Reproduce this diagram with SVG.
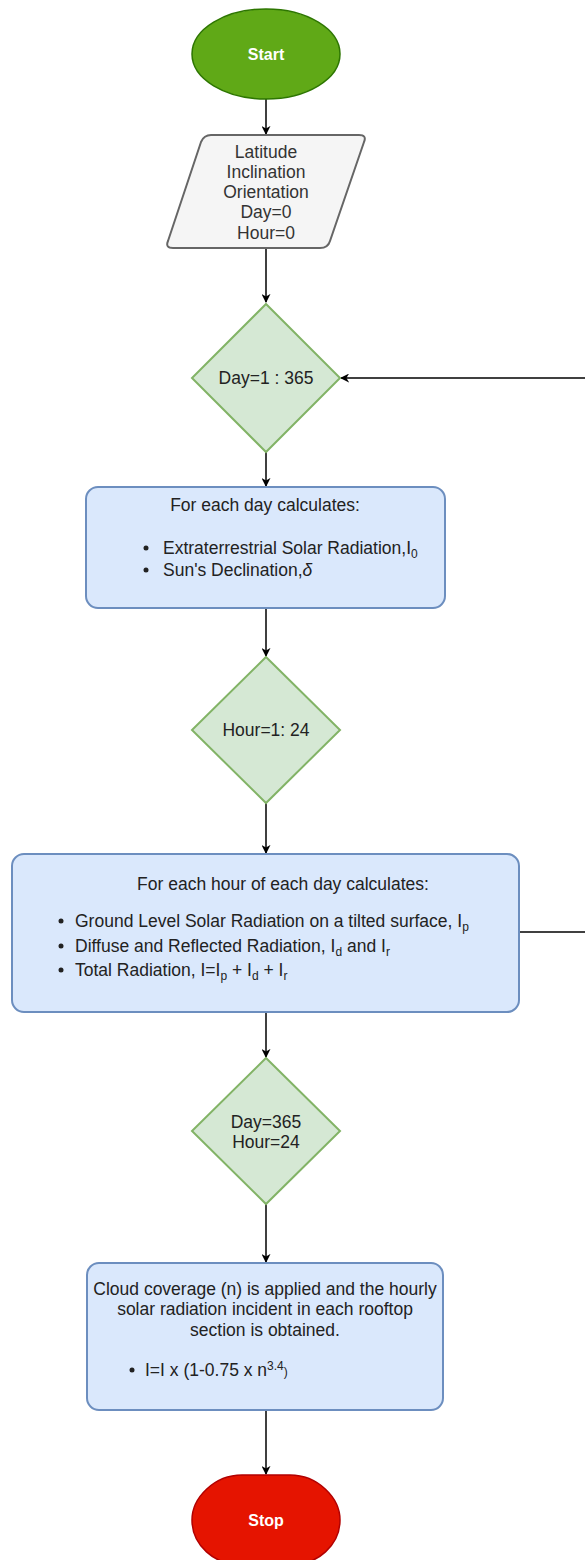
<svg xmlns="http://www.w3.org/2000/svg" width="585" height="1560" viewBox="0 0 585 1560">
  <style>
    text { font-family: "Liberation Sans", Arial, sans-serif; font-size: 17.5px; fill: #222; }
    .c { text-anchor: middle; }
    .term { stroke-width: 1.5; }
    .dec { fill: #d5e8d4; stroke: #82b366; stroke-width: 2; }
    .proc { fill: #dae8fc; stroke: #6c8ebf; stroke-width: 2; }
    .io { fill: #f5f5f5; stroke: #666666; stroke-width: 2; }
    .white { fill: #ffffff; font-weight: bold; font-size: 16px; }
    .grey { fill: #333333; }
    .edge { fill: none; stroke: #000000; stroke-width: 1.5; }
    .sub { font-size: 12px; }
  </style>
  <defs>
    <marker id="arrow" viewBox="0 0 10 10" refX="9" refY="5" markerWidth="9" markerHeight="9" markerUnits="userSpaceOnUse" orient="auto">
      <path d="M0,0 L10,5 L0,10 L3,5 Z" fill="#000000"/>
    </marker>
  </defs>
  <rect width="585" height="1560" fill="#ffffff"/>

  <g id="connectors">
    <line class="edge" x1="266" y1="99" x2="266" y2="134" marker-end="url(#arrow)"/>
    <line class="edge" x1="266" y1="248" x2="266" y2="302" marker-end="url(#arrow)"/>
    <line class="edge" x1="266" y1="452" x2="266" y2="486" marker-end="url(#arrow)"/>
    <line class="edge" x1="266" y1="608" x2="266" y2="656" marker-end="url(#arrow)"/>
    <line class="edge" x1="266" y1="803" x2="266" y2="853" marker-end="url(#arrow)"/>
    <line class="edge" x1="266" y1="1012" x2="266" y2="1057" marker-end="url(#arrow)"/>
    <line class="edge" x1="266" y1="1204" x2="266" y2="1262" marker-end="url(#arrow)"/>
    <line class="edge" x1="266" y1="1410" x2="266" y2="1474" marker-end="url(#arrow)"/>
    <!-- loop back from the hourly step to the day decision -->
    <line class="edge" x1="519" y1="932" x2="586" y2="932"/>
    <line class="edge" x1="586" y1="378" x2="341" y2="378" marker-end="url(#arrow)"/>
  </g>

  <g id="start">
    <ellipse cx="266" cy="54" rx="74" ry="45" fill="#60a917" stroke="#2d7600" class="term"/>
    <text x="266" y="60" class="c white">Start</text>
  </g>

  <g id="inputs">
    <path class="io" d="M211,135 L359,135 Q367,135 364,142 L330,241 Q328,248 320,248 L173,248 Q165,248 168,241 L201,142 Q204,135 211,135 Z"/>
    <text x="266" y="158" class="c grey">Latitude</text>
    <text x="266" y="178" class="c grey">Inclination</text>
    <text x="266" y="198" class="c grey">Orientation</text>
    <text x="266" y="218" class="c grey">Day=0</text>
    <text x="266" y="239" class="c grey">Hour=0</text>
  </g>

  <g id="day-loop">
    <polygon class="dec" points="266,304 340,378 266,452 192,378"/>
    <text x="266" y="384" class="c">Day=1 : 365</text>
  </g>

  <g id="daily-calc">
    <rect class="proc" x="86" y="487" width="359" height="121" rx="12" ry="12"/>
    <text x="265" y="511" class="c">For each day calculates:</text>
    <circle cx="146" cy="548" r="2.5" fill="#222"/>
    <text x="163" y="554">Extraterrestrial Solar Radiation,I<tspan class="sub" dy="4">0</tspan></text>
    <circle cx="146" cy="570" r="2.5" fill="#222"/>
    <text x="163" y="576">Sun's Declination,<tspan font-style="italic">δ</tspan></text>
  </g>

  <g id="hour-loop">
    <polygon class="dec" points="266,657 340,730 266,803 192,730"/>
    <text x="266" y="736" class="c">Hour=1: 24</text>
  </g>

  <g id="hourly-calc">
    <rect class="proc" x="12" y="854" width="507" height="158" rx="12" ry="12"/>
    <text x="283" y="890" class="c">For each hour of each day calculates:</text>
    <circle cx="61" cy="921" r="2.5" fill="#222"/>
    <text x="75" y="927">Ground Level Solar Radiation on a tilted surface, I<tspan class="sub" dy="4">p</tspan></text>
    <circle cx="61" cy="946" r="2.5" fill="#222"/>
    <text x="75" y="952">Diffuse and Reflected Radiation, I<tspan class="sub" dy="4">d</tspan><tspan dy="-4"> and I</tspan><tspan class="sub" dy="4">r</tspan></text>
    <circle cx="61" cy="970" r="2.5" fill="#222"/>
    <text x="75" y="976">Total Radiation, I=I<tspan class="sub" dy="4">p</tspan><tspan dy="-4"> + I</tspan><tspan class="sub" dy="4">d</tspan><tspan dy="-4"> + I</tspan><tspan class="sub" dy="4">r</tspan></text>
  </g>

  <g id="end-check">
    <polygon class="dec" points="266,1058 340,1131 266,1204 192,1131"/>
    <text x="266" y="1128" class="c">Day=365</text>
    <text x="266" y="1148" class="c">Hour=24</text>
  </g>

  <g id="cloud-correction">
    <rect class="proc" x="87" y="1263" width="356" height="147" rx="12" ry="12"/>
    <text x="265" y="1295" class="c">Cloud coverage (n) is applied and the hourly</text>
    <text x="265" y="1315" class="c">solar radiation incident in each rooftop</text>
    <text x="265" y="1336" class="c">section is obtained.</text>
    <circle cx="132" cy="1370" r="2.5" fill="#222"/>
    <text x="145" y="1376">I=I x (1-0.75 x n<tspan class="sub" dy="-6">3.4</tspan><tspan class="sub" dy="6">)</tspan></text>
  </g>

  <g id="stop">
    <path d="M242,1475 L290,1475 C318,1475 340,1498 340,1520 C340,1545 318,1565 290,1565 L242,1565 C214,1565 192,1545 192,1520 C192,1498 214,1475 242,1475 Z" fill="#e51400" stroke="#b20000" class="term"/>
    <text x="266" y="1526" class="c white">Stop</text>
  </g>
</svg>
